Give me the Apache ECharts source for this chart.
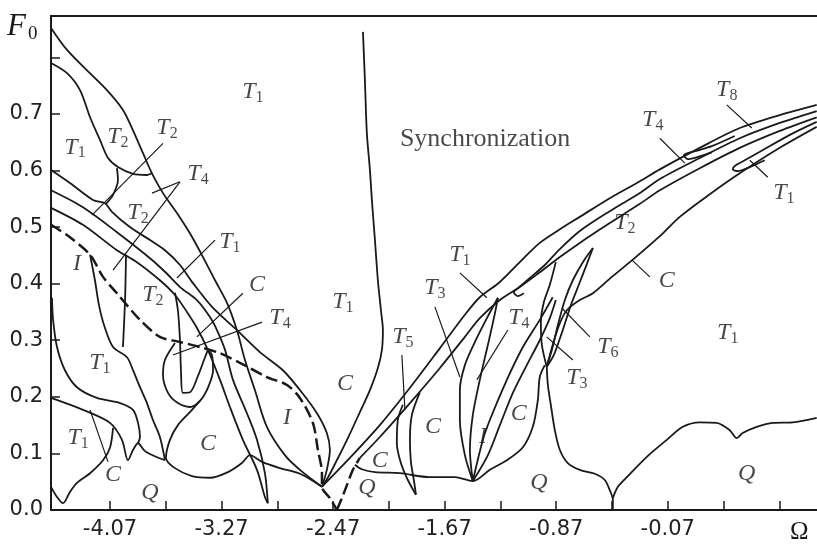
<!DOCTYPE html>
<html><head><meta charset="utf-8">
<script src="https://cdn.jsdelivr.net/npm/echarts@6/dist/echarts.min.js"></script>
<style>html,body{margin:0;padding:0;background:#fff}#c{width:817px;height:551px}</style>
</head><body><div id="c"></div>
<script>
// ---- axis ticks ----
const xTickLabels = [-4.07, -3.27, -2.47, -1.67, -0.87, -0.07];
const xTicks = [-4.07, -3.67, -3.27, -2.87, -2.47, -2.07, -1.67, -1.27, -0.87, -0.47, -0.07, 0.33, 0.73];
const yTickLabels = [0.0, 0.1, 0.2, 0.3, 0.4, 0.5, 0.6, 0.7];
const yTicks = [0.0, 0.1, 0.2, 0.3, 0.4, 0.5, 0.6, 0.7, 0.8];

// ---- boundary curves [Omega, F0] ----
const c1 = [[-4.493,0.852],[-4.378,0.813],[-4.235,0.777],[-4.092,0.742],[-3.977,0.707],[-3.905,0.671],[-3.834,0.631],[-3.769,0.595],[-3.690,0.560],[-3.590,0.525],[-3.497,0.489],[-3.403,0.447],[-3.317,0.406],[-3.231,0.366],[-3.160,0.318],[-3.102,0.265],[-3.031,0.212],[-2.945,0.147],[-2.816,0.097],[-2.708,0.071],[-2.550,0.041]];
const c2 = [[-4.493,0.790],[-4.378,0.772],[-4.285,0.742],[-4.213,0.694],[-4.142,0.654],[-4.084,0.622],[-4.013,0.606],[-3.905,0.594],[-3.805,0.592],[-3.769,0.595]];
const c3 = [[-4.020,0.604],[-4.013,0.583],[-4.048,0.557],[-4.099,0.541]];
const alpha = [[-4.493,0.601],[-4.357,0.578],[-4.192,0.548],[-4.106,0.542],[-4.056,0.527],[-3.927,0.500],[-3.783,0.477],[-3.676,0.459],[-3.568,0.433],[-3.475,0.401],[-3.331,0.357],[-3.160,0.318],[-2.995,0.279],[-2.830,0.247],[-2.708,0.212],[-2.586,0.171],[-2.515,0.136],[-2.493,0.106],[-2.515,0.071],[-2.550,0.041]];
const beta = [[-4.493,0.565],[-4.264,0.535],[-4.020,0.491],[-3.783,0.445],[-3.676,0.421],[-3.568,0.394],[-3.447,0.371],[-3.353,0.341],[-3.303,0.318],[-3.245,0.283],[-3.188,0.230],[-3.088,0.171],[-3.016,0.124],[-2.959,0.065],[-2.938,0.012]];
const gamma = [[-4.493,0.534],[-4.264,0.504],[-4.020,0.459],[-3.877,0.438],[-3.712,0.406],[-3.604,0.380],[-3.518,0.350],[-3.447,0.322],[-3.368,0.283],[-3.281,0.230],[-3.210,0.182],[-3.117,0.124],[-3.016,0.071],[-2.959,0.023],[-2.938,0.012]];
const iLeft = [[-4.213,0.451],[-4.178,0.406],[-4.149,0.362],[-4.113,0.327],[-4.048,0.288],[-3.948,0.270],[-3.905,0.247],[-3.855,0.217],[-3.805,0.189],[-3.762,0.159],[-3.712,0.129],[-3.676,0.088]];
const vLine = [[-3.955,0.451],[-3.962,0.371],[-3.977,0.288]];
const curveA = [[-4.486,0.375],[-4.478,0.336],[-4.450,0.288],[-4.393,0.247],[-4.307,0.217],[-4.163,0.198],[-3.998,0.189],[-3.905,0.177],[-3.869,0.154],[-3.855,0.129],[-3.869,0.118]];
const curveB = [[-4.493,0.198],[-4.264,0.177],[-4.070,0.154],[-3.984,0.124],[-3.941,0.088],[-3.905,0.106],[-3.869,0.118],[-3.819,0.104],[-3.748,0.095],[-3.676,0.088]];
const curveCb = [[-4.493,0.041],[-4.450,0.023],[-4.407,0.012],[-4.357,0.032],[-4.307,0.048],[-4.213,0.065],[-4.120,0.088],[-4.070,0.110],[-4.048,0.145]];
const finger = [[-3.604,0.384],[-3.583,0.353],[-3.568,0.300],[-3.561,0.247],[-3.547,0.207],[-3.497,0.208],[-3.439,0.237],[-3.396,0.265],[-3.368,0.283]];
const loopT4 = [[-3.604,0.295],[-3.676,0.265],[-3.690,0.239],[-3.654,0.207],[-3.583,0.189],[-3.497,0.182],[-3.425,0.193],[-3.368,0.216],[-3.331,0.247],[-3.339,0.274],[-3.368,0.283]];
const cLoop = [[-3.425,0.193],[-3.497,0.173],[-3.583,0.150],[-3.640,0.124],[-3.669,0.092],[-3.604,0.074],[-3.482,0.060],[-3.353,0.057],[-3.224,0.067],[-3.124,0.083],[-3.066,0.097],[-2.980,0.085],[-2.851,0.074],[-2.708,0.064],[-2.600,0.049],[-2.550,0.041]];
const syncLine = [[-2.256,0.845],[-2.242,0.760],[-2.228,0.666],[-2.206,0.601],[-2.192,0.548],[-2.170,0.477],[-2.149,0.406],[-2.127,0.353],[-2.113,0.318],[-2.120,0.283],[-2.149,0.251],[-2.206,0.212],[-2.278,0.173],[-2.364,0.127],[-2.443,0.088],[-2.508,0.057],[-2.550,0.041]];
const r1 = [[-2.550,0.041],[-2.350,0.092],[-2.135,0.150],[-1.919,0.216],[-1.704,0.286],[-1.525,0.345],[-1.418,0.376],[-1.274,0.403],[-1.131,0.438],[-0.988,0.472],[-0.844,0.496],[-0.701,0.518],[-0.486,0.551],[-0.270,0.581],[-0.127,0.602],[0.159,0.640],[0.446,0.675],[0.733,0.698],[0.998,0.716]];
const r3 = [[-2.278,0.092],[-2.135,0.129],[-1.919,0.189],[-1.704,0.251],[-1.525,0.306],[-1.418,0.339],[-1.274,0.371],[-1.131,0.394],[-0.988,0.420],[-0.844,0.447],[-0.701,0.472],[-0.486,0.507],[-0.270,0.541],[-0.127,0.565],[0.159,0.604],[0.446,0.640],[0.733,0.670],[0.998,0.694]];
const r2 = [[-1.145,0.392],[-1.059,0.410],[-0.952,0.433],[-0.844,0.461],[-0.701,0.493],[-0.486,0.528],[-0.270,0.560],[-0.127,0.585],[0.159,0.622],[0.446,0.657],[0.733,0.684],[0.998,0.705]];
const hook = [[-1.145,0.392],[-1.174,0.385],[-1.145,0.378],[-1.102,0.383]];
const t4Loop = [[0.410,0.661],[0.245,0.643],[0.124,0.634],[0.045,0.627],[0.073,0.620],[0.159,0.625],[0.245,0.632]];
const t1Loop = [[0.998,0.686],[0.805,0.663],[0.590,0.633],[0.482,0.618],[0.410,0.608],[0.396,0.602],[0.432,0.599],[0.518,0.606],[0.625,0.618]];
const r4 = [[-0.938,0.253],[-0.895,0.292],[-0.844,0.330],[-0.794,0.353],[-0.701,0.371],[-0.607,0.383],[-0.471,0.412],[-0.342,0.438],[-0.127,0.484],[0.016,0.518],[0.231,0.558],[0.446,0.595],[0.733,0.640],[0.998,0.677]];
const t6a = [[-0.607,0.463],[-0.679,0.438],[-0.751,0.406],[-0.808,0.371],[-0.858,0.327],[-0.901,0.283],[-0.938,0.253]];
const t6b = [[-0.607,0.463],[-0.650,0.435],[-0.708,0.398],[-0.765,0.362],[-0.823,0.318],[-0.887,0.274],[-0.938,0.253]];
const g1 = [[-0.938,0.253],[-0.973,0.292],[-0.980,0.332],[-0.959,0.367],[-0.916,0.398],[-0.873,0.438]];
const f1 = [[-1.468,0.051],[-1.525,0.097],[-1.561,0.159],[-1.561,0.212],[-1.525,0.256],[-1.453,0.297],[-1.367,0.339],[-1.288,0.375]];
const f2 = [[-1.468,0.051],[-1.489,0.106],[-1.468,0.168],[-1.418,0.230],[-1.360,0.292],[-1.317,0.339],[-1.288,0.375]];
const f3 = [[-1.468,0.051],[-1.396,0.124],[-1.346,0.159],[-1.224,0.230],[-1.109,0.288],[-0.988,0.336],[-0.895,0.376]];
const f4 = [[-1.468,0.051],[-1.360,0.097],[-1.274,0.150],[-1.181,0.207],[-1.081,0.256],[-0.988,0.300],[-0.916,0.339],[-0.873,0.371]];
const qMid = [[-2.314,0.080],[-2.264,0.072],[-2.170,0.067],[-1.991,0.065],[-1.776,0.058],[-1.597,0.058],[-1.468,0.051],[-1.346,0.071],[-1.224,0.088],[-1.109,0.111],[-1.038,0.147],[-1.002,0.194],[-0.988,0.235],[-0.952,0.256]];
const qRightA = [[-0.938,0.253],[-0.930,0.221],[-0.909,0.186],[-0.880,0.141],[-0.844,0.106],[-0.787,0.083],[-0.701,0.071],[-0.593,0.064],[-0.522,0.053],[-0.486,0.035],[-0.464,0.018],[-0.464,0]];
const qRightB = [[-0.464,0.021],[-0.428,0.041],[-0.364,0.058],[-0.220,0.094],[-0.077,0.124],[0.038,0.147],[0.159,0.155],[0.281,0.154],[0.374,0.141],[0.424,0.127],[0.467,0.136],[0.568,0.147],[0.683,0.154],[0.826,0.155],[0.998,0.163]];
const t5a = [[-1.970,0.186],[-2.006,0.159],[-2.013,0.118],[-1.984,0.083],[-1.934,0.053],[-1.876,0.027]];
const t5b = [[-1.848,0.208],[-1.905,0.168],[-1.919,0.124],[-1.912,0.085],[-1.891,0.053],[-1.876,0.027]];
// dashed boundaries
const dash1 = [[-4.493,0.504],[-4.357,0.482],[-4.213,0.451],[-4.120,0.412],[-4.020,0.383],[-3.855,0.336],[-3.712,0.306],[-3.568,0.297],[-3.425,0.288],[-3.281,0.277],[-3.138,0.260],[-2.945,0.235],[-2.801,0.221],[-2.708,0.198],[-2.615,0.154],[-2.579,0.106],[-2.550,0.065],[-2.550,0.041],[-2.493,0.021],[-2.443,0]];
const dash2 = [[-2.443,0],[-2.407,0.021],[-2.371,0.044],[-2.328,0.071],[-2.278,0.092]];
// label pointer segments
const pointers = [
 [[-3.690,0.648],[-4.199,0.521]],
 [[-3.568,0.580],[-3.769,0.560]],
 [[-3.568,0.580],[-4.048,0.424]],
 [[-3.317,0.477],[-3.590,0.410]],
 [[-3.117,0.383],[-3.447,0.306]],
 [[-2.980,0.332],[-3.619,0.274]],
 [[-4.084,0.085],[-4.213,0.177]],
 [[-1.977,0.274],[-1.955,0.177]],
 [[-1.740,0.359],[-1.561,0.235]],
 [[-1.217,0.318],[-1.439,0.230]],
 [[-1.561,0.419],[-1.367,0.375]],
 [[-0.629,0.306],[-0.830,0.357]],
 [[-0.751,0.265],[-0.938,0.306]],
 [[-0.199,0.412],[-0.328,0.442]],
 [[-0.127,0.657],[0.052,0.613]],
 [[0.353,0.716],[0.532,0.675]],
 [[0.647,0.588],[0.518,0.618]]
];
// region labels: [Omega, F0, letter, subscript]
const regionLabels = [
 [-3.045,0.739,'T','1'],[-4.013,0.659,'T','2'],[-3.661,0.675,'T','2'],[-4.321,0.641,'T','1'],
 [-3.439,0.595,'T','4'],[-3.869,0.525,'T','2'],[-3.210,0.474,'T','1'],[-4.307,0.436,'I',''],
 [-3.762,0.380,'T','2'],[-3.016,0.398,'C',''],[-2.851,0.339,'T','4'],[-4.142,0.260,'T','1'],
 [-4.299,0.127,'T','1'],[-4.048,0.062,'C',''],[-3.783,0.030,'Q',''],[-3.368,0.118,'C',''],
 [-2.801,0.164,'I',''],[-2.400,0.368,'T','1'],[-2.385,0.224,'C',''],[-1.970,0.306,'T','5'],
 [-2.135,0.088,'C',''],[-2.228,0.039,'Q',''],[-1.754,0.147,'C',''],[-1.740,0.392,'T','3'],
 [-1.561,0.451,'T','1'],[-1.138,0.339,'T','4'],[-1.396,0.129,'I',''],[-1.138,0.171,'C',''],
 [-0.995,0.048,'Q',''],[-0.378,0.507,'T','2'],[-0.077,0.406,'C',''],[-0.500,0.288,'T','6'],
 [-0.722,0.233,'T','3'],[0.360,0.313,'T','1'],[0.496,0.065,'Q',''],[-0.178,0.689,'T','4'],
 [0.353,0.742,'T','8'],[0.762,0.560,'T','1']
];
const syncText = [-1.991, 0.655, 'Synchronization'];

const INK = '#1a1a1a';
const solidCurves = [c1,c2,c3,alpha,beta,gamma,iLeft,vLine,curveA,curveB,curveCb,finger,loopT4,cLoop,syncLine,r1,r2,r3,hook,t4Loop,t1Loop,r4,t6a,t6b,g1,f1,f2,f3,f4,qMid,qRightA,qRightB,t5a,t5b];
const series = [];
solidCurves.forEach(d => series.push({type:'line', data:d, showSymbol:false, smooth:0.3, silent:true,
  lineStyle:{color:INK, width:1.8}, z:3}));
[dash1, dash2].forEach(d => series.push({type:'line', data:d, showSymbol:false, smooth:0.3, silent:true,
  lineStyle:{color:INK, width:2.5, type:[12,5]}, z:3}));
pointers.forEach(d => series.push({type:'line', data:d, showSymbol:false, smooth:false, silent:true,
  lineStyle:{color:INK, width:1.2}, z:3}));
series.push({type:'scatter', symbolSize:0, silent:true, z:5,
  data: regionLabels.map(r => ({value:[r[0], r[1]], letter:r[2], sub:r[3]})),
  label:{show:true, position:'inside',
    formatter: p => '{t|' + p.data.letter + '}' + (p.data.sub ? '{s|' + p.data.sub + '}' : ''),
    rich:{
      t:{fontFamily:'Liberation Serif', fontStyle:'italic', fontSize:24, color:INK, lineHeight:28},
      s:{fontFamily:'Liberation Serif', fontSize:16, color:INK, verticalAlign:'bottom', lineHeight:16}
    }}
});
series.push({type:'scatter', symbolSize:0, silent:true, z:5,
  data:[{value:[syncText[0], syncText[1]], txt:syncText[2]}],
  label:{show:true, position:'inside', align:'left', formatter: p => p.data.txt,
    fontFamily:'Liberation Serif', fontSize:26, color:INK}
});

const axisFont = {fontFamily:'DejaVu Sans', fontSize:21, color:'#222'};
const option = {
  animation:false,
  backgroundColor:'#fff',
  grid:{left:51, right:0, top:16, bottom:41, containLabel:false},
  xAxis:[{
    type:'value', min:-4.493, max:1.0, position:'bottom',
    axisLine:{show:true, onZero:false, lineStyle:{color:INK, width:2}},
    axisTick:{show:true, inside:true, length:9, customValues:xTicks, lineStyle:{color:INK, width:1.5}},
    axisLabel:Object.assign({customValues:xTickLabels, margin:9, formatter:v => v.toFixed(2)}, axisFont),
    splitLine:{show:false}
  },{
    type:'value', min:-4.493, max:1.0, position:'top',
    axisLine:{show:true, onZero:false, lineStyle:{color:INK, width:2}},
    axisTick:{show:false}, axisLabel:{show:false}, splitLine:{show:false}
  }],
  yAxis:{
    type:'value', min:0, max:0.873,
    axisLine:{show:true, onZero:false, lineStyle:{color:INK, width:2}},
    axisTick:{show:true, inside:true, length:9, customValues:yTicks, lineStyle:{color:INK, width:1.5}},
    axisLabel:Object.assign({customValues:yTickLabels, margin:8, formatter:v => v.toFixed(1)}, axisFont),
    splitLine:{show:false}
  },
  graphic:[
    {type:'text', left:7, top:11, style:{text:'F', font:'italic 31px "Liberation Serif"', fill:INK}},
    {type:'text', left:28, top:25, style:{text:'0', font:'19px "Liberation Serif"', fill:INK}},
    {type:'text', left:790, top:520, style:{text:'Ω', font:'25px "Liberation Serif"', fill:INK}}
  ],
  series: series
};
const chart = echarts.init(document.getElementById('c'));
chart.setOption(option);
</script>
</body></html>
